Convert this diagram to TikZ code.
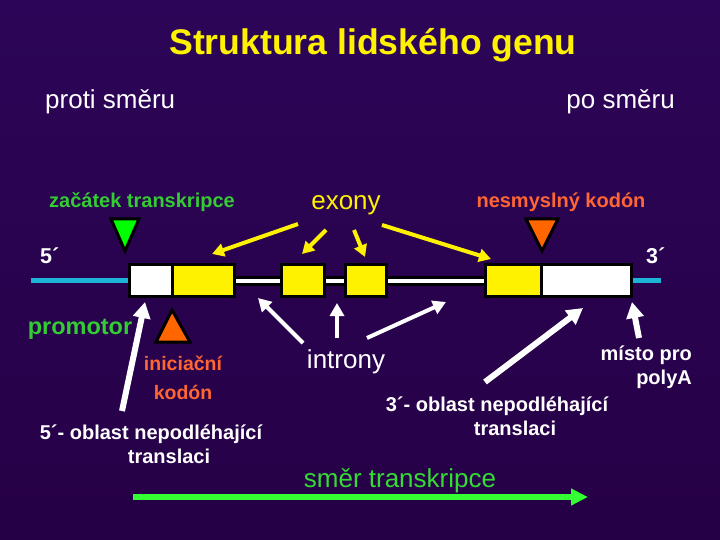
\documentclass[tikz,border=0pt]{standalone}
\usepackage{fontspec}
\setmainfont{Liberation Sans}
\usetikzlibrary{arrows.meta, positioning}

\definecolor{bgdark}{HTML}{2C0558}
\definecolor{bgmid}{HTML}{4A008F}
\definecolor{bgbot}{HTML}{260046}
\definecolor{genegreen}{HTML}{33CC33}
\definecolor{arrowgreen}{HTML}{33FF33}
\definecolor{codonorange}{HTML}{FF6633}
\definecolor{triorange}{HTML}{FF6600}
\definecolor{flankcyan}{HTML}{1CB5D5}

\begin{document}
\begin{tikzpicture}[x=1pt, y=-1pt,
  boldtxt/.style={font=\fontsize{20}{24}\selectfont\bfseries, inner sep=0pt},
  plaintxt/.style={font=\fontsize{26}{30}\selectfont, inner sep=0pt},
  endtxt/.style={font=\fontsize{21.5}{24}\selectfont\bfseries, inner sep=0pt},
  exon/.style={rectangle, draw=black, line width=3pt, fill=yellow,
               minimum height=32pt, inner sep=0pt},
  utr/.style={exon, fill=white},
  intron/.style={rectangle, draw=black, line width=3pt, fill=white,
                 minimum height=7pt, inner sep=0pt},
  marker/.style={draw=black, line width=3pt, line join=miter},
  yarr/.style={-{Triangle[length=12pt, width=13pt]}, line width=4pt, yellow},
  warr/.style={-{Triangle[length=13pt, width=14pt]}, line width=4pt, white},
  wbig/.style={-{Triangle[length=16pt, width=17pt]}, line width=6pt, white},
  garr/.style={-{Triangle[length=17pt, width=16pt]}, line width=6pt, arrowgreen}
]

  % background
  \shade[top color=bgdark, middle color=bgmid, bottom color=bgbot]
    (0,0) rectangle (720,540);
  \useasboundingbox (0,0) rectangle (720,540);

  % titles
  \node[font=\fontsize{35.6}{40}\selectfont\bfseries, text=yellow, inner sep=0pt]
    (title) at (373,45) {Struktura lidského genu};
  \node[plaintxt, text=white, anchor=west] (upstream) at (45,102) {proti směru};
  \node[plaintxt, text=white, anchor=east] (downstream) at (675,102) {po směru};

  % flanking lines
  \draw[flankcyan, line width=5pt] (31,280.5) -- (130,280.5);
  \draw[flankcyan, line width=5pt] (631,280.5) -- (661,280.5);

  % introns
  \node[intron, minimum width=47pt] (in1) at (258,281) {};
  \node[intron, minimum width=21pt] (in2) at (335,281) {};
  \node[intron, minimum width=99pt] (in3) at (436,281) {};

  % exons and UTRs
  \node[utr,  minimum width=42.5pt] (utr5) at (150.75,280.5) {};
  \node[exon, minimum width=62.5pt] (ex1)  at (203.25,280.5) {};
  \node[exon, minimum width=43pt]   (ex2)  at (303,280.5) {};
  \node[exon, minimum width=41pt]   (ex3)  at (366,280.5) {};
  \node[exon, minimum width=55.5pt] (ex4)  at (513.25,280.5) {};
  \node[utr,  minimum width=90.5pt] (utr3) at (586.25,280.5) {};

  % markers
  \draw[marker, fill=green]      (111,219) -- (139,219) -- (125,251) -- cycle;
  \draw[marker, fill=triorange]  (526,219) -- (558,219) -- (542,251) -- cycle;
  \draw[marker, fill=triorange]  (172,310) -- (190,342) -- (156,342) -- cycle;

  % labels above
  \node[boldtxt, text=genegreen] (tss) at (142,202) {začátek transkripce};
  \node[plaintxt, text=yellow] (exony) at (346,205) {exony};
  \node[boldtxt, text=codonorange] (stop) at (561,202) {nesmyslný kodón};
  \node[endtxt, text=white, anchor=west] (five) at (40,256) {5´};
  \node[endtxt, text=white, anchor=west] (three) at (646,256) {3´};

  % labels below
  \node[font=\fontsize{23.5}{28}\selectfont\bfseries, text=genegreen, inner sep=0pt]
    (promotor) at (80,329) {promotor};
  \node[font=\fontsize{19.5}{29}\selectfont\bfseries, text=codonorange,
        inner sep=0pt, align=center] (start) at (183,378) {iniciační\\kodón};
  \node[boldtxt, text=white, align=center] (utr5lab) at (151,444)
    {5´- oblast nepodléhající\\\hspace*{36pt}translaci};
  \node[plaintxt, text=white] (introny) at (346,362) {introny};
  \node[boldtxt, text=white, align=right, anchor=east] (polya) at (692,367)
    {místo pro\\polyA};
  \node[boldtxt, text=white, align=center] (utr3lab) at (497,416)
    {3´- oblast nepodléhající\\\hspace*{36pt}translaci};
  \node[plaintxt, text=genegreen!70!arrowgreen] (dir) at (400,481) {směr transkripce};

  % arrow end points
  \coordinate (y1a) at (298,224);  \coordinate (y1b) at (212,254);
  \coordinate (y2a) at (326,230);  \coordinate (y2b) at (302,254);
  \coordinate (y3a) at (354,230);  \coordinate (y3b) at (365,257);
  \coordinate (y4a) at (382,225);  \coordinate (y4b) at (491,259);
  \coordinate (w1a) at (303,343);  \coordinate (w1b) at (258,298);
  \coordinate (w2a) at (337,338);  \coordinate (w2b) at (337,303);
  \coordinate (w3a) at (367,338);  \coordinate (w3b) at (446,302);
  \coordinate (pra) at (122,411);  \coordinate (prb) at (145,302);
  \coordinate (u3a) at (485,382);  \coordinate (u3b) at (583,308);
  \coordinate (paa) at (639,338);  \coordinate (pab) at (632,302);
  \coordinate (ga)  at (133,497);  \coordinate (gb)  at (588,497);

  % exon arrows
  \foreach \a/\b in {y1a/y1b, y2a/y2b, y3a/y3b, y4a/y4b}
    \draw[yarr] (\a) -- (\b);

  % intron arrows
  \foreach \a/\b in {w1a/w1b, w2a/w2b, w3a/w3b}
    \draw[warr] (\a) -- (\b);

  % other white arrows
  \foreach \a/\b in {pra/prb, u3a/u3b, paa/pab}
    \draw[wbig] (\a) -- (\b);

  % direction of transcription
  \draw[garr] (ga) -- (gb);

\end{tikzpicture}
\end{document}
